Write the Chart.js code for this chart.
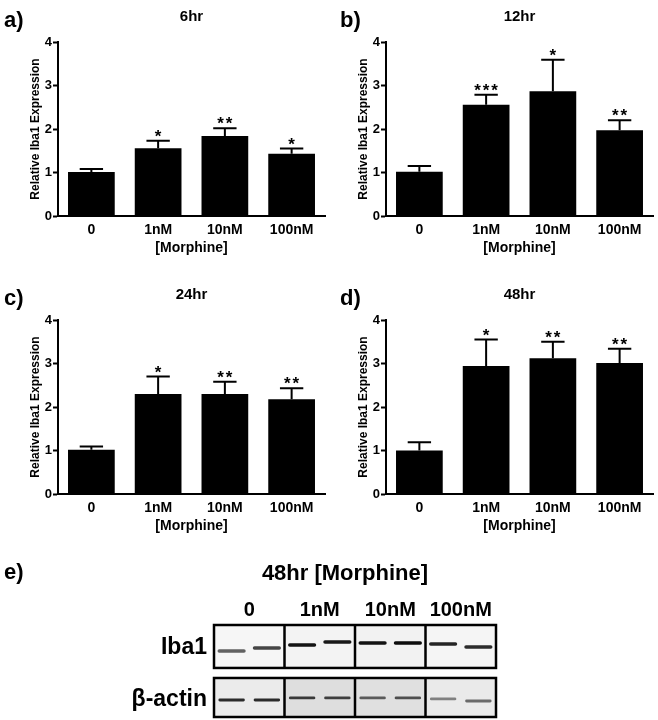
<!DOCTYPE html>
<html>
<head>
<meta charset="utf-8">
<script src="https://cdn.jsdelivr.net/npm/chart.js@4"></script>
<style>
  html, body { margin: 0; padding: 0; background: #fff; }
  #page { position: relative; width: 658px; height: 720px; overflow: hidden; background: #fff; }
  #page canvas { position: absolute; }
</style>
</head>
<body>
<div id="page">
  <canvas id="chart6" width="329" height="278" style="left:0;top:0"></canvas>
  <canvas id="chart12" width="329" height="278" style="left:328px;top:0"></canvas>
  <canvas id="chart24" width="329" height="278" style="left:0;top:278px"></canvas>
  <canvas id="chart48" width="329" height="278" style="left:328px;top:278px"></canvas>
  <canvas id="blot" width="658" height="164" style="left:0;top:556px"></canvas>
</div>
<script>
// morphine doses on the x axis
const doses = ['0', '1nM', '10nM', '100nM'];

// relative Iba1 expression, mean and SEM per time point
const mean6 = [1.01, 1.56, 1.84, 1.43];
const sem6 = [0.07, 0.17, 0.18, 0.12];
const stars6 = ['', '*', '**', '*'];

const mean12 = [1.02, 2.56, 2.87, 1.97];
const sem12 = [0.13, 0.23, 0.72, 0.23];
const stars12 = ['', '***', '*', '**'];

const mean24 = [1.02, 2.30, 2.30, 2.18];
const sem24 = [0.07, 0.40, 0.28, 0.25];
const stars24 = ['', '*', '**', '**'];

const mean48 = [1.00, 2.94, 3.12, 3.01];
const sem48 = [0.19, 0.61, 0.38, 0.33];
const stars48 = ['', '*', '**', '**'];

// western blot, 48hr: two lanes per dose
const blotDoses = ['0', '1nM', '10nM', '100nM'];
const blotLanes = ['0', '0', '1nM', '1nM', '10nM', '10nM', '100nM', '100nM'];
const iba1Band = [71.7, 75.0, 78.3, 81.5, 80.4, 80.4, 79.3, 76.1];
const iba1Density = [0.6, 0.72, 0.92, 0.9, 0.92, 0.95, 0.85, 0.82];
const actinBand = [18.5, 18.5, 20.7, 20.7, 20.7, 20.7, 19.6, 17.4];
const actinDensity = [0.82, 0.82, 0.75, 0.72, 0.6, 0.65, 0.45, 0.55];

const FONT = '"Liberation Sans", Arial, sans-serif';
Chart.defaults.font.family = FONT;
Chart.defaults.color = '#000';

const errorBars = {
    id: 'errorBars',
    afterDatasetsDraw(chart) {
        const ctx = chart.ctx;
        const y = chart.scales.y;
        const ds = chart.data.datasets[0];
        const bars = chart.getDatasetMeta(0).data;
        ctx.save();
        ctx.strokeStyle = '#000';
        ctx.fillStyle = '#000';
        ctx.lineWidth = 2;
        ctx.font = 'bold 17px ' + FONT;
        ctx.textAlign = 'center';
        ctx.textBaseline = 'alphabetic';
        bars.forEach((bar, i) => {
            const top = y.getPixelForValue(ds.data[i] + ds.errors[i]);
            const half = bar.width / 4;
            ctx.beginPath();
            ctx.moveTo(bar.x, bar.y);
            ctx.lineTo(bar.x, top);
            ctx.moveTo(bar.x - half, top);
            ctx.lineTo(bar.x + half, top);
            ctx.stroke();
            const n = ds.stars[i].length;
            for (let k = 0; k < n; k++) {
                ctx.fillText('*', bar.x + (k - (n - 1) / 2) * 8.5, top + 1);
            }
        });
        ctx.restore();
    }
};

const panelText = {
    id: 'panelText',
    afterDraw(chart, args, opts) {
        const ctx = chart.ctx;
        const area = chart.chartArea;
        ctx.save();
        ctx.fillStyle = '#000';
        ctx.textBaseline = 'alphabetic';
        ctx.font = 'bold 22px ' + FONT;
        ctx.textAlign = 'left';
        ctx.fillText(opts.letter, opts.letterX, 27);
        ctx.font = 'bold 15px ' + FONT;
        ctx.textAlign = 'center';
        ctx.fillText(opts.title, (area.left + area.right) / 2, 21);
        ctx.restore();
    }
};

function makeBarChart(id, letter, letterX, title, means, errors, stars) {
    return new Chart(document.getElementById(id), {
        type: 'bar',
        data: {
            labels: doses,
            datasets: [{
                data: means,
                errors: errors,
                stars: stars,
                backgroundColor: '#000',
                barPercentage: 0.7,
                categoryPercentage: 1
            }]
        },
        options: {
            responsive: false,
            animation: false,
            devicePixelRatio: 1,
            layout: { padding: { left: 0, right: 4, top: 42, bottom: 0 } },
            plugins: {
                legend: { display: false },
                tooltip: { enabled: false },
                panelText: { letter: letter, letterX: letterX, title: title }
            },
            scales: {
                x: {
                    grid: { display: false, drawTicks: false },
                    border: { display: true, color: '#000', width: 2 },
                    ticks: { font: { size: 14, weight: 'bold' }, padding: 6 },
                    title: {
                        display: true,
                        text: '[Morphine]',
                        font: { size: 14, weight: 'bold' },
                        padding: { top: 0, bottom: 21 }
                    },
                    afterFit: s => { s.height = 62; }
                },
                y: {
                    min: 0,
                    max: 4,
                    ticks: { stepSize: 1, font: { size: 13, weight: 'bold' }, padding: 1 },
                    grid: { drawOnChartArea: false, drawTicks: true, tickLength: 5, tickColor: '#000', tickWidth: 2 },
                    border: { color: '#000', width: 2 },
                    title: {
                        display: true,
                        text: 'Relative Iba1 Expression',
                        font: { size: 12, weight: 'bold' },
                        padding: { top: 28, bottom: 0 }
                    },
                    afterFit: s => { s.width = 58; }
                }
            }
        },
        plugins: [errorBars, panelText]
    });
}

makeBarChart('chart6', 'a)', 4, '6hr', mean6, sem6, stars6);
makeBarChart('chart12', 'b)', 12, '12hr', mean12, sem12, stars12);
makeBarChart('chart24', 'c)', 4, '24hr', mean24, sem24, stars24);
makeBarChart('chart48', 'd)', 12, '48hr', mean48, sem48, stars48);

// frames, backgrounds and labels of the blot
const blotFrame = {
    id: 'blotFrame',
    sections(chart) {
        const x = chart.scales.x;
        const a = chart.chartArea;
        const edges = [a.left];
        for (let i = 1; i < blotDoses.length; i++) {
            edges.push((x.getPixelForValue(2 * i - 1) + x.getPixelForValue(2 * i)) / 2);
        }
        edges.push(a.right);
        return edges;
    },
    boxes(chart) {
        const y = chart.scales.y;
        return [
            { top: y.getPixelForValue(100), bottom: y.getPixelForValue(53.3), fills: ['#f6f6f6', '#f3f3f3', '#f2f2f2', '#f5f5f5'] },
            { top: y.getPixelForValue(42.4), bottom: y.getPixelForValue(0), fills: ['#ebebeb', '#dedede', '#e0e0e0', '#eaeaea'] }
        ];
    },
    beforeDatasetsDraw(chart) {
        const ctx = chart.ctx;
        const edges = this.sections(chart);
        ctx.save();
        this.boxes(chart).forEach(b => {
            for (let i = 0; i < edges.length - 1; i++) {
                ctx.fillStyle = b.fills[i];
                ctx.fillRect(edges[i], b.top, edges[i + 1] - edges[i], b.bottom - b.top);
            }
        });
        ctx.restore();
    },
    afterDatasetsDraw(chart) {
        const ctx = chart.ctx;
        const edges = this.sections(chart);
        ctx.save();
        ctx.strokeStyle = '#000';
        ctx.lineWidth = 2.5;
        this.boxes(chart).forEach(b => {
            ctx.strokeRect(edges[0], b.top, edges[edges.length - 1] - edges[0], b.bottom - b.top);
            ctx.beginPath();
            for (let i = 1; i < edges.length - 1; i++) {
                ctx.moveTo(edges[i], b.top);
                ctx.lineTo(edges[i], b.bottom);
            }
            ctx.stroke();
        });
        ctx.restore();
    },
    afterDraw(chart) {
        const ctx = chart.ctx;
        const a = chart.chartArea;
        const edges = this.sections(chart);
        const b = this.boxes(chart);
        ctx.save();
        ctx.fillStyle = '#000';
        ctx.textBaseline = 'alphabetic';
        ctx.font = 'bold 22px ' + FONT;
        ctx.textAlign = 'left';
        ctx.fillText('e)', 4, 23);
        ctx.textAlign = 'center';
        ctx.fillText('48hr [Morphine]', (a.left + a.right) / 2 - 10, 24);
        ctx.font = 'bold 20px ' + FONT;
        blotDoses.forEach((d, i) => {
            ctx.fillText(d, (edges[i] + edges[i + 1]) / 2, 60);
        });
        ctx.font = 'bold 23px ' + FONT;
        ctx.textAlign = 'right';
        ctx.fillText('Iba1', a.left - 7, (b[0].top + b[0].bottom) / 2 + 8);
        ctx.fillText('\u03B2-actin', a.left - 7, (b[1].top + b[1].bottom) / 2 + 9);
        ctx.restore();
    }
};

const BAND = 1.9;
new Chart(document.getElementById('blot'), {
    type: 'bar',
    data: {
        labels: blotLanes,
        datasets: [
            {
                data: iba1Band.map(c => [c - BAND, c + BAND]),
                backgroundColor: iba1Density.map(d => 'rgba(0,0,0,' + d + ')'),
                barPercentage: 0.8,
                categoryPercentage: 1,
                grouped: false,
                borderRadius: 2,
                borderSkipped: false
            },
            {
                data: actinBand.map(c => [c - BAND * 0.8, c + BAND * 0.8]),
                backgroundColor: actinDensity.map(d => 'rgba(0,0,0,' + d + ')'),
                barPercentage: 0.75,
                categoryPercentage: 1,
                grouped: false,
                borderRadius: 2,
                borderSkipped: false
            }
        ]
    },
    options: {
        responsive: false,
        animation: false,
        devicePixelRatio: 1,
        layout: { padding: { left: 214, right: 162, top: 69, bottom: 3 } },
        plugins: { legend: { display: false }, tooltip: { enabled: false } },
        scales: {
            x: { display: false },
            y: { display: false, min: 0, max: 100 }
        }
    },
    plugins: [blotFrame]
});
</script>
</body>
</html>
